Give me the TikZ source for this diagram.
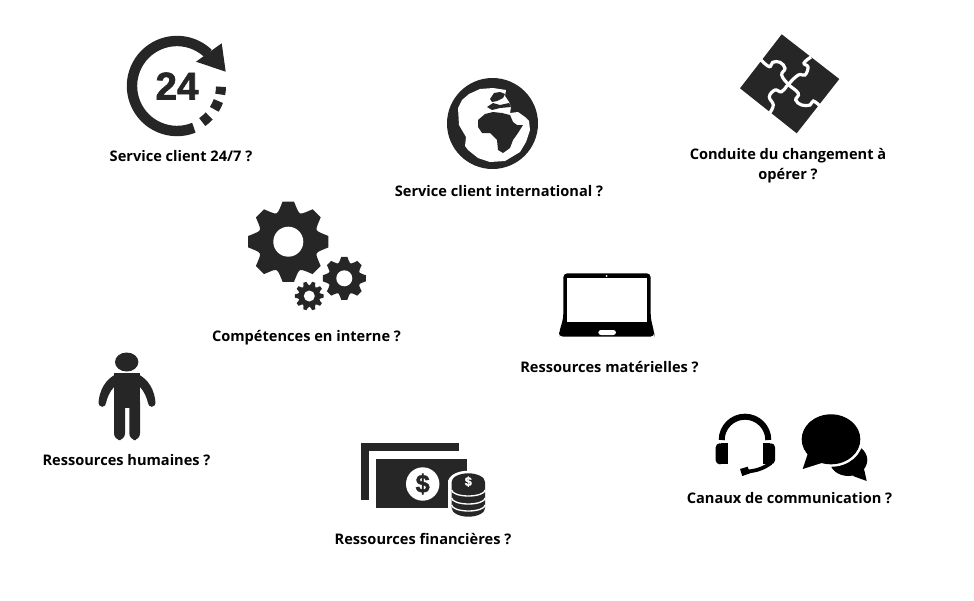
\documentclass[tikz,border=0pt]{standalone}
\usepackage{fontspec}
\setmainfont{Open Sans}
\newfontfamily\iconfont[BoldFeatures={FakeBold=1.6}]{Liberation Sans}
\definecolor{icondark}{HTML}{262626}
\tikzset{
  caption/.style={font=\fontsize{10.95}{12}\selectfont\bfseries, text=black, anchor=base, inner sep=0pt},
  icon/.style={fill=icondark, draw=none},
  iconline/.style={draw=icondark, fill=none},
  seam/.style={draw=white, line width=2.4pt, fill=none},
  cutout/.style={fill=white, draw=none}
}
\newcommand{\gearicon}[5]{
  \begin{scope}[shift={#1}]
    \pgfmathsetmacro{\gearstep}{360/#5}
    \fill[icon] ({0.3*\gearstep}:#3)
      \foreach \k [evaluate=\k as \a using \k*\gearstep] in {1,...,#5} {
        .. controls ({\a-0.5*\gearstep}:{0.84*#3}) .. ({\a-0.3*\gearstep}:#3)
        -- ({\a-0.18*\gearstep}:#2) -- ({\a+0.18*\gearstep}:#2) -- ({\a+0.3*\gearstep}:#3)
      } -- cycle;
    \fill[cutout] (0,0) circle[radius=#4];
  \end{scope}
}
\begin{document}
\begin{tikzpicture}[x=0.75pt,y=0.75pt]
  \useasboundingbox (0,-600) rectangle (974,0);

  % 24/7
  \draw[iconline, line width=7.8pt] ([shift={(177,-86)}]-68:45) arc[start angle=-68, end angle=-314, radius=45];
  \fill[icon] (221.7,-43.3) -- (225.7,-71.7) -- (196,-61.7) -- cycle;
  \draw[iconline, line width=7.5pt] ([shift={(177,-86)}]-1:44) arc[start angle=-1, end angle=-11, radius=44];
  \draw[iconline, line width=7.5pt] ([shift={(177,-86)}]-20:44) arc[start angle=-20, end angle=-32, radius=44];
  \draw[iconline, line width=7.5pt] ([shift={(177,-86)}]-43:44) arc[start angle=-43, end angle=-55, radius=44];
  \node[font=\iconfont\fontsize{29}{30}\selectfont\bfseries, text=icondark, inner sep=0pt] (hours) at (177,-86) {24};
  \node[caption] (svc247) at (181,-161) {Service client 24/7 ?};

  % globe
  \fill[icon] (492.5,-123.5) circle[radius=45.5];
  \fill[cutout] (469,-94) -- (480,-89) -- (493,-88) -- (506,-90) -- (505,-96) -- (509,-102) -- (511,-107)
    -- (510,-113) -- (518,-112) -- (525,-117) -- (529,-121) -- (530,-130) -- (526,-142) -- (520,-152)
    -- (505,-161) -- (490,-162) -- (478,-158) -- (468,-150) -- (465,-146) -- (466,-137) -- (459,-125)
    -- (458,-108) -- (462,-100) -- cycle;
  \fill[icon] (478,-120) -- (485,-114) -- (493,-112) -- (502,-113) -- (510,-115) -- (513,-122) -- (517,-125)
    -- (523,-125) -- (518,-133) -- (513,-140) -- (510,-148) -- (503,-153) -- (498,-150) -- (497,-140)
    -- (490,-133) -- (482,-133) -- (478,-127) -- cycle;
  \fill[icon] (490,-99) -- (494,-93) -- (500,-92) -- (505,-94) -- (503,-98) -- (497,-101) -- (492,-102) -- cycle;
  \fill[icon] (487,-107) -- (493,-103) -- (500,-105) -- (509,-103) -- (511,-107) -- (500,-108) -- (492,-110) -- cycle;
  \node[caption] (svcworld) at (499,-196) {Service client international ?};

  % puzzle
  \fill[icon] (781.7,-34.3) -- (839.3,-79) -- (796.7,-133.3) -- (740,-88.3) -- cycle;
  \draw[seam] plot[smooth, tension=0.7] coordinates {(761,-60) (769.3,-66.7) (772.7,-62.3) (780,-62.3) (785,-68.3) (781.7,-75) (788.3,-84.3) (798.3,-93.3) (795.7,-100) (801.7,-105) (810,-105) (813.3,-101) (820,-106)};
  \draw[seam] plot[smooth, tension=0.7] coordinates {(769.7,-113) (773.3,-105) (769.3,-96.7) (775,-90) (781.7,-91.7) (788.3,-84.3) (798.3,-75) (805,-75) (808,-67) (804,-63) (811,-57)};
  \node[caption] (change) at (788,-159) {Conduite du changement à};
  \node[caption] (changeb) at (788,-179) {opérer ?};

  % gears
  \gearicon{(288.3,-241.7)}{40.5}{35}{15}{8}
  \gearicon{(344.3,-278.3)}{21.7}{18.5}{8}{8}
  \gearicon{(309.3,-296)}{14.5}{12}{5.5}{10}
  \node[caption] (skills) at (306.5,-341) {Compétences en interne ?};

  % laptop
  \fill[black, rounded corners=3pt] (559,-336.7) -- (559,-333) -- (563.3,-318) -- (563.3,-273.3) -- (650.7,-273.3) -- (650.7,-318) -- (654.3,-333) -- (654.3,-336.7) -- cycle;
  \fill[cutout] (567.3,-278.3) rectangle (646.7,-322.3);
  \fill[cutout, rounded corners=2pt] (598.3,-330) rectangle (616,-335);
  \fill[cutout] (606.7,-276) circle[radius=1];
  \node[caption] (material) at (609.5,-372) {Ressources matérielles ?};

  % person
  \fill[icon] (126.7,-362) ellipse[x radius=11.7, y radius=9.5];
  \fill[icon] (118,-373.5) .. controls (105,-378) and (99,-392) .. (98.5,-403) arc[start angle=180, end angle=360, radius=3.75]
    .. controls (107,-398) and (110,-391) .. (114,-387) -- cycle;
  \fill[icon] (136,-373.5) .. controls (149,-378) and (155,-392) .. (155.5,-403) arc[start angle=0, end angle=-180, radius=3.75]
    .. controls (147,-398) and (144,-391) .. (140,-387) -- cycle;
  \fill[icon] (114,-373.3) rectangle (140,-408);
  \fill[icon, rounded corners=5pt] (114,-395) rectangle (125,-440);
  \fill[icon, rounded corners=5pt] (129.3,-395) rectangle (140,-440);
  \node[caption] (people) at (126.5,-465) {Ressources humaines ?};

  % money
  \fill[icon] (361,-443.3) rectangle (459,-450.7);
  \fill[icon] (361,-443.3) rectangle (369,-500);
  \fill[icon] (376,-459) rectangle (466.7,-507.7);
  \fill[cutout] (422.7,-484) circle[radius=16.7];
  \node[font=\iconfont\fontsize{19}{19}\selectfont\bfseries, text=icondark, inner sep=0pt] (bill) at (422.7,-484) {\$};
  \fill[cutout] (448,-520) rectangle (488,-480);
  \fill[cutout] (468.3,-481.7) ellipse[x radius=20, y radius=11];
  \fill[icon] (451.7,-482) -- (451.7,-508) arc[start angle=180, end angle=360, x radius=16.7, y radius=8.7] -- (485,-482) arc[start angle=0, end angle=180, x radius=16.7, y radius=8.7] -- cycle;
  \draw[draw=white, line width=1pt] (451.7,-490) arc[start angle=180, end angle=360, x radius=16.7, y radius=6];
  \draw[draw=white, line width=1pt] (451.7,-498) arc[start angle=180, end angle=360, x radius=16.7, y radius=6];
  \draw[draw=white, line width=1pt] (451.7,-505) arc[start angle=180, end angle=360, x radius=16.7, y radius=6];
  \node[font=\iconfont\fontsize{9.5}{10}\selectfont\bfseries, text=white, inner sep=0pt] (coin) at (468.3,-481.7) {\$};
  \node[caption] (money) at (423,-544) {Ressources financières ?};

  % headset and bubbles
  \draw[draw=black, line width=4.5pt] (721.7,-440) arc[start angle=180, end angle=0, radius=23.3];
  \fill[black, rounded corners=3pt] (724,-443.3) -- (715.7,-443.3) -- (715.7,-464.3) -- (724,-464.3) -- cycle;
  \fill[black] (721,-443.3) rectangle (727.7,-464.3);
  \fill[black, rounded corners=3pt] (767,-443.3) -- (775,-443.3) -- (775,-464.3) -- (767,-464.3) -- cycle;
  \fill[black] (763.3,-443.3) rectangle (770,-464.3);
  \draw[draw=black, line width=2.8pt] (771,-463) to[bend left=15] (747,-471.5);
  \fill[black] (740,-469) -- (747.7,-466.7) -- (750,-473.3) -- (742.3,-476) -- cycle;
  \fill[black] (848.3,-460) ellipse[x radius=19, y radius=16];
  \fill[black] (853,-476) -- (866.7,-481) -- (862,-460) -- cycle;
  \fill[black, draw=white, line width=2.2pt] (831,-439.3) ellipse[x radius=30.5, y radius=26];
  \fill[black] (808,-453) -- (802.7,-469) -- (821.7,-463) -- cycle;
  \fill[black] (831,-439.3) ellipse[x radius=29.3, y radius=25];
  \node[caption] (channels) at (789.5,-503) {Canaux de communication ?};
\end{tikzpicture}
\end{document}
